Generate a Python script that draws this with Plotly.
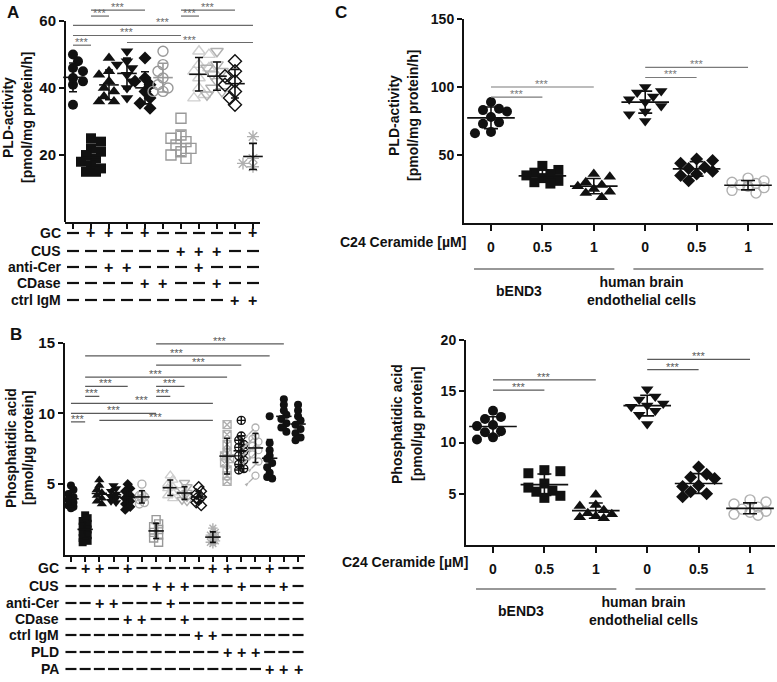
import numpy as np
import plotly.graph_objects as go

W, H = 777, 682
FONT = "Liberation Sans, Arial, sans-serif"

# ---------------- data ----------------
# Panel A: PLD activity [pmol/mg protein/h], 11 treatment groups
pld_a = [
    [50, 48, 46, 45, 43, 42, 42, 41, 40, 35],
    [25, 24, 22, 21, 20, 19, 18, 17, 16, 15, 15],
    [49, 45, 44, 42, 40, 39, 37.5, 36, 36],
    [51, 48, 47, 46, 44, 42, 40, 37],
    [49, 43, 42, 41, 39, 37, 35.5, 34],
    [51, 47, 45, 43, 41, 40, 39, 39],
    [31, 26, 25, 24, 23, 22, 21, 20, 19],
    [51, 50, 47, 46, 45, 43, 40, 38, 37],
    [51, 47, 46, 45, 44, 42, 40, 39, 38],
    [48, 45, 43.5, 42, 41, 39, 37, 35],
    [25.5, 24.5, 19, 18.5, 17.5, 16.5, 15.5],
]
rows_a = ["GC", "CUS", "anti-Cer", "CDase", "ctrl IgM"]
table_a = ["-++-+-----+", "------+++--", "--++---+---", "----++--+--", "---------++"]
# significance brackets: (group i, group j, height)
sig_a = [(1, 2, 52.8), (4, 11, 53.6), (1, 7, 55.7), (1, 11, 58.7),
         (2, 3, 61.5), (7, 8, 61.5), (2, 5, 63.3), (7, 10, 63.3)]

# Panel B: phosphatidic acid [pmol/ug protein], 17 groups
pa_b = [
    [4.9, 4.6, 4.3, 4.1, 3.9, 3.7, 3.5, 3.4, 3.3],
    [2.8, 2.6, 2.4, 2.2, 2.0, 1.8, 1.6, 1.4, 1.2, 1.0, 0.9],
    [5.3, 4.9, 4.6, 4.4, 4.2, 4.0, 3.8, 3.6],
    [4.9, 4.7, 4.5, 4.3, 4.1, 4.0, 3.8, 3.7],
    [5.0, 4.7, 4.5, 4.2, 4.0, 3.8, 3.6, 3.4, 3.2],
    [5.0, 4.3, 4.2, 4.1, 4.0, 3.9, 3.7, 3.6],
    [2.5, 2.2, 2.0, 1.8, 1.6, 1.4, 1.2, 0.9],
    [5.6, 5.3, 5.0, 4.8, 4.7, 4.4, 4.2, 4.0],
    [5.1, 4.8, 4.6, 4.4, 4.3, 4.1, 3.9, 3.8],
    [4.8, 4.5, 4.3, 4.1, 4.0, 3.9, 3.7, 3.5],
    [1.9, 1.6, 1.4, 1.3, 1.2, 1.0, 0.9, 0.8],
    [9.2, 8.5, 7.8, 7.2, 7.0, 6.8, 6.5, 6.0, 5.6, 5.2],
    [9.5, 8.4, 8.1, 7.8, 7.6, 7.3, 7.0, 6.7, 6.4, 6.1, 6.0],
    [9.0, 8.4, 8.2, 8.0, 7.7, 7.4, 7.1, 6.6, 5.6],
    [9.8, 7.9, 7.4, 7.0, 6.8, 6.5, 6.2, 5.8, 5.5, 5.4],
    [11.0, 10.6, 10.2, 9.9, 9.6, 9.3, 9.0, 8.7],
    [10.6, 10.2, 9.8, 9.5, 9.2, 8.9, 8.6, 8.3, 8.1],
]
rows_b = ["GC", "CUS", "anti-Cer", "CDase", "ctrl IgM", "PLD", "PA"]
table_b = ["-++-+-----++--+--", "------+++---+--+-", "--++---+---------",
           "----++--+--------", "---------++------", "-----------+++---",
           "--------------+++"]
sig_b = [(1, 2, 9.4), (3, 11, 9.5), (1, 7, 10.0), (1, 11, 10.7), (2, 3, 11.2),
         (7, 8, 11.2), (2, 5, 11.9), (7, 9, 11.9), (2, 12, 12.55), (7, 13, 13.4),
         (2, 15, 14.06), (7, 16, 14.9)]

# Panel C: C24 ceramide dose, bEND3 and human brain endothelial cells
dose_labels = ["0", "0.5", "1", "0", "0.5", "1"]
cell_lines = ["bEND3", "human brain<br>endothelial cells"]
pld_c = [
    [89, 84, 83, 82, 78, 74, 73, 67, 66],
    [42, 39, 37, 36, 35, 33, 31, 30, 29],
    [36, 34, 30, 28, 27, 25, 23, 22, 19],
    [100, 97, 96, 93, 91, 89, 86, 82, 80, 75],
    [47, 46, 44, 41, 40, 38, 36, 35, 31],
    [33, 31, 30, 29, 28, 27, 26, 24, 22],
]
sig_c1 = [(1, 2, 92.5), (1, 3, 100), (4, 5, 107), (4, 6, 114.5)]
pa_c = [
    [13.1, 12.5, 12.3, 11.7, 11.6, 11.1, 11.0, 10.5, 10.3],
    [7.3, 7.2, 7.0, 6.0, 5.6, 5.3, 5.2, 4.8, 4.6],
    [4.9, 3.9, 3.8, 3.4, 3.1, 3.0, 2.8, 2.7, 2.6],
    [15.2, 14.5, 14.2, 13.8, 13.6, 13.5, 13.1, 12.7, 11.8],
    [7.6, 6.9, 6.6, 6.5, 5.8, 5.7, 5.2, 5.0, 4.7],
    [4.4, 4.2, 4.0, 3.7, 3.5, 3.3, 3.2, 3.0, 2.9],
]
sig_c2 = [(1, 2, 15.1), (1, 3, 16.1), (4, 5, 17.1), (4, 6, 18.1)]

# ---------------- styles ----------------
BLK, G1, G2, G3 = "#111111", "#999999", "#b0b0b0", "#cfcfcf"
sty_a = [("circle", BLK), ("square", BLK), ("triangle-up", BLK), ("triangle-down", BLK),
         ("diamond", BLK), ("circle-open", G1), ("square-open", G1),
         ("triangle-up-open", G3), ("triangle-down-open", G2), ("diamond-open", BLK),
         ("asterisk-open", G2)]
sty_b = sty_a[:5] + [("circle-open", G2), ("square-open", G1), ("triangle-up-open", G3),
                     ("triangle-down-open", G2), ("diamond-open", BLK), ("asterisk-open", G2),
                     ("square-x-open", G2), ("circle-cross-open", BLK), ("male", G2),
                     ("circle", BLK), ("circle", BLK), ("circle", BLK)]
sty_c = sty_a[:5] + [("circle-open", G2)]

# panel geometry in pixels: x0,x1,ytop,ybottom, x range, y range
geo = {
    "A": dict(ax="", x0=65, x1=260, yt=1, yb=222, xr=(-0.444, 10.39), yr=(0, 66)),
    "B": dict(ax="2", x0=65, x1=305, yt=342.5, yb=555, xr=(-0.42, 16.49), yr=(0, 15)),
    "C1": dict(ax="3", x0=464, x1=773, yt=19, yb=223, xr=(-0.525, 5.486), yr=(0, 150)),
    "C2": dict(ax="4", x0=466, x1=775, yt=340, yb=545, xr=(-0.525, 5.486), yr=(0, 20)),
}


def xpix(g, v):
    return g["x0"] + (v - g["xr"][0]) / (g["xr"][1] - g["xr"][0]) * (g["x1"] - g["x0"])


def ypix(g, v):
    return g["yb"] - (v - g["yr"][0]) / (g["yr"][1] - g["yr"][0]) * (g["yb"] - g["yt"])


def swarm(vals, g, diam, step, maxk):
    ppu_x = (g["x1"] - g["x0"]) / (g["xr"][1] - g["xr"][0])
    ppu_y = (g["yb"] - g["yt"]) / (g["yr"][1] - g["yr"][0])
    vals = np.asarray(vals, float)
    offs = np.zeros(len(vals))
    placed = []
    for n, i in enumerate(np.argsort(-vals, kind="stable")):
        sgn = 1 if n % 2 else -1
        cands = [0.0]
        for k in range(1, maxk + 1):
            cands += [sgn * k * step, -sgn * k * step]
        y = vals[i] * ppu_y
        best, best_d, fb = None, -1, 0.0
        for c in cands:
            d = min((np.hypot(c - px, y - py) for px, py in placed), default=1e9)
            if d >= diam:
                best = c
                break
            if d > best_d:
                best_d, fb = d, c
        if best is None:
            best = fb
        placed.append((best, y))
        offs[i] = best / ppu_x
    return offs


fig = go.Figure()
annos, shapes = [], []


def add_groups(g, data, styles, msize, diam, step, maxk, mean_w, cap, ecolors=None):
    xa, ya = "x" + g["ax"], "y" + g["ax"]
    for i, (vals, (sym, col)) in enumerate(zip(data, styles)):
        if sym == "male":
            # male sign built from a ring, a stem and an arrowhead pointing north-east
            xs = i + swarm(vals, g, 8, 3, 1)
            for s, sz, ang, so in [("circle-open", 7, 0, 0), ("line-ns", 5, 45, 6),
                                   ("arrow", 5, 45, 9)]:
                fig.add_trace(go.Scatter(
                    x=xs, y=vals, mode="markers", xaxis=xa, yaxis=ya, cliponaxis=False,
                    marker=dict(symbol=s, size=sz, angle=ang, standoff=so, color=col,
                                line=dict(width=1.3 if s != "arrow" else 0, color=col))))
        else:
            xs = i + swarm(vals, g, diam, step, maxk)
            sz = msize + (1 if "triangle" in sym else 0)
            openm = sym.endswith("-open")
            fig.add_trace(go.Scatter(
                x=xs, y=vals, mode="markers", xaxis=xa, yaxis=ya, cliponaxis=False,
                marker=dict(symbol=sym, size=sz, color=col,
                            line=dict(width=1.4 if openm else 0, color=col))))
        ec = ecolors[i] if ecolors else BLK
        fig.add_trace(go.Scatter(
            x=[i], y=[np.mean(vals)], mode="markers", xaxis=xa, yaxis=ya, cliponaxis=False,
            marker=dict(symbol="line-ew", size=mean_w, line=dict(width=1.6, color=ec)),
            error_y=dict(type="data", array=[np.std(vals, ddof=1)], width=cap,
                         thickness=1.6, color=ec)))


def add_sig(g, sig, color, fsize):
    xa, ya = "x" + g["ax"], "y" + g["ax"]
    for i, j, h in sig:
        shapes.append(dict(type="line", xref=xa, yref=ya, x0=i - 1, x1=j - 1, y0=h, y1=h,
                           line=dict(color=color, width=1.2)))
        annos.append(dict(xref=xa, yref=ya, x=(i + j - 2) / 2, y=h, text="***",
                          showarrow=False, yanchor="bottom", yshift=-5,
                          font=dict(size=fsize, color=color, family=FONT)))


def add_table(g, rows, table, ys, label_x, dash_w):
    xa = "x" + g["ax"]
    for r, (lab, line) in enumerate(zip(rows, table)):
        yp = 1 - ys[r] / H
        annos.append(dict(xref="paper", yref="paper", x=label_x / W, y=yp, text=lab,
                          xanchor="right", yanchor="middle", showarrow=False,
                          font=dict(size=14, color=BLK, family=FONT, weight="bold")))
        for k, ch in enumerate(line):
            if ch == "+":
                annos.append(dict(xref=xa, yref="paper", x=k, y=yp, text="+",
                                  showarrow=False, yanchor="middle", xanchor="center",
                                  font=dict(size=16, color=BLK, family=FONT, weight="bold")))
            else:
                xc = xpix(g, k)
                shapes.append(dict(type="line", xref="paper", yref="paper",
                                   x0=(xc - dash_w / 2) / W, x1=(xc + dash_w / 2) / W,
                                   y0=yp, y1=yp, line=dict(color=BLK, width=2.2)))


def ytitle(x, yc, text, size=14):
    annos.append(dict(xref="paper", yref="paper", x=x / W, y=1 - yc / H, text=text,
                      textangle=-90, showarrow=False, xanchor="center", yanchor="middle",
                      font=dict(size=size, color=BLK, family=FONT, weight="bold")))


def text(x, y, t, size=14, anchor="center"):
    annos.append(dict(xref="paper", yref="paper", x=x / W, y=1 - y / H, text=t,
                      showarrow=False, xanchor=anchor, yanchor="middle",
                      font=dict(size=size, color=BLK, family=FONT, weight="bold")))


# ---------------- traces ----------------
ga, gb, gc1, gc2 = geo["A"], geo["B"], geo["C1"], geo["C2"]
ec_a = [BLK] * 5 + [G1, G1, BLK, BLK, BLK, BLK]
add_groups(ga, pld_a, sty_a, 10, 7.5, 5, 2, 14, 4, ec_a)
add_groups(gb, pa_b, sty_b, 8, 5, 2.5, 1, 11, 3)
add_groups(gc1, pld_c, sty_c, 10, 9, 8, 2, 34, 7)
add_groups(gc2, pa_c, sty_c, 10, 9, 8, 2, 34, 7)

add_sig(ga, sig_a, "#6a6a6a", 11)
add_sig(gb, sig_b, "#5a5a5a", 11)
add_sig(gc1, sig_c1, "#7a7a7a", 11)
add_sig(gc2, sig_c2, "#5a5a5a", 11)

add_table(ga, rows_a, table_a, [233, 251, 267, 283, 300], 63, 12)
add_table(gb, rows_b, table_b, [568, 586, 603, 619, 635, 652, 669], 61, 11)

# y-axis line of A stops at the top tick (brackets sit above it)
shapes.append(dict(type="line", xref="paper", yref="paper", x0=ga["x0"] / W, x1=ga["x0"] / W,
                   y0=1 - ga["yb"] / H, y1=1 - ypix(ga, 60) / H,
                   line=dict(color=BLK, width=2)))

# axis titles and panel letters
ytitle(8, 118, "PLD-activity")
ytitle(27, 118, "[pmol/mg protein/h]")
ytitle(11, 448, "Phosphatidic acid")
ytitle(28, 448, "[pmol/µg protein]")
ytitle(394, 116, "PLD-activity")
ytitle(413, 116, "[pmol/mg protein/h]")
ytitle(397, 424, "Phosphatidic acid")
ytitle(417, 424, "[pmol/µg protein]")
text(13, 13, "A", 17)
text(16, 334, "B", 17)
text(341, 13, "C", 17)

# C: dose label and cell-line groups
for g, ylab, yline, ytxt in [(gc1, 242, 269, 291), (gc2, 562, 589, 611)]:
    text(g["x0"] + 4, ylab, "C24 Ceramide [µM]", 14, "right")
    for (a, b), lab in zip([(-0.33, 2.4), (2.77, 5.3)], cell_lines):
        shapes.append(dict(type="line", xref="paper", yref="paper",
                           x0=xpix(g, a) / W, x1=xpix(g, b) / W,
                           y0=1 - yline / H, y1=1 - yline / H,
                           line=dict(color="#333333", width=1.2)))
        annos.append(dict(xref="paper", yref="paper", x=xpix(g, (a + b) / 2) / W,
                          y=1 - ytxt / H, text=lab, showarrow=False, yanchor="middle",
                          font=dict(size=14, color=BLK, family=FONT, weight="bold")))

# ---------------- axes ----------------
layout_axes = {}
for key, g in geo.items():
    n = g["ax"]
    xd = [g["x0"] / W, g["x1"] / W]
    yd = [1 - g["yb"] / H, 1 - g["yt"] / H]
    ncat = {"A": 11, "B": 17}.get(key, 6)
    xa = dict(domain=xd, range=list(g["xr"]), anchor="y" + n, showgrid=False, zeroline=False,
              showline=True, linecolor=BLK, linewidth=2, ticks="outside", ticklen=5,
              tickwidth=1.6, tickcolor=BLK, tickvals=list(range(ncat)), automargin=False)
    if key.startswith("C"):
        xa.update(ticktext=dose_labels, ticklen=6, ticklabelstandoff=4,
                  tickfont=dict(size=14, color=BLK, family=FONT, weight="bold"))
    else:
        xa.update(showticklabels=False)
    yticks = {"A": [20, 40, 60], "B": [5, 10, 15], "C1": [50, 100, 150], "C2": [5, 10, 15, 20]}[key]
    ya = dict(domain=yd, range=list(g["yr"]), anchor="x" + n, showgrid=False, zeroline=False,
              showline=key != "A", linecolor=BLK, linewidth=2, ticks="outside", ticklen=5,
              tickwidth=1.6, tickcolor=BLK, tickvals=yticks, automargin=False,
              tickfont=dict(size=15 if key in ("A", "B") else 14, color=BLK, family=FONT,
                            weight="bold"))
    layout_axes["xaxis" + n] = xa
    layout_axes["yaxis" + n] = ya

fig.update_layout(width=W, height=H, margin=dict(l=0, r=0, t=0, b=0),
                  plot_bgcolor="white", paper_bgcolor="white", showlegend=False,
                  annotations=annos, shapes=shapes, **layout_axes)
# page body has a default 8px margin; remove it so the figure sits at the window origin
fig.write_html("out.html", config={"displayModeBar": False},
               post_script="document.body.style.margin='0';")
